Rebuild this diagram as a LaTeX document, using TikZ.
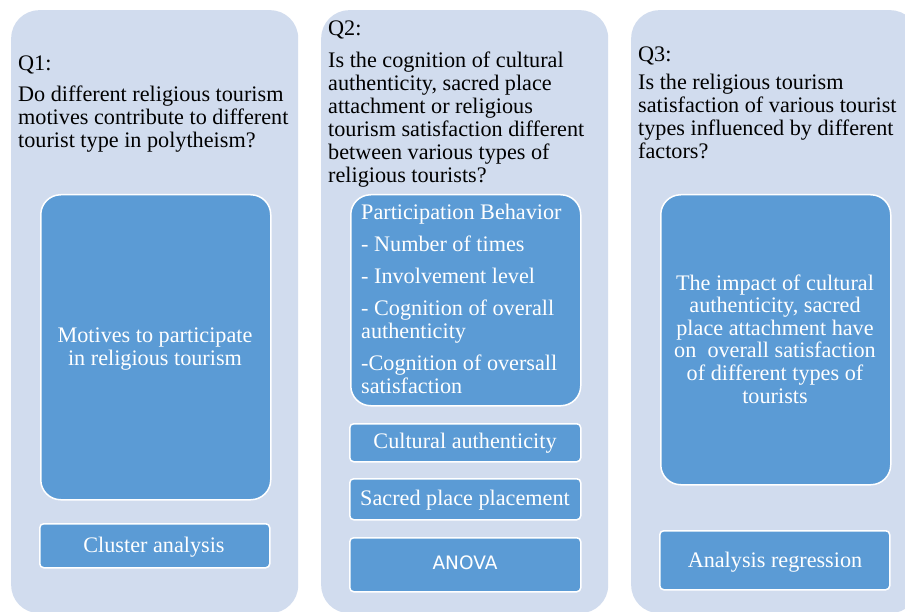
\documentclass[tikz,border=0pt]{standalone}
\usepackage{fontspec}
\setmainfont{Liberation Serif}
\newfontfamily\methodfont{DejaVu Sans}
\definecolor{panelfill}{HTML}{D1DCEE}
\definecolor{boxfill}{HTML}{5B9BD5}

\begin{document}
\begin{tikzpicture}[x=1pt, y=-1pt,
  panel/.style={fill=panelfill, rounded corners=28pt, inner sep=0pt, anchor=north west},
  bigbox/.style={fill=boxfill, draw=white, line width=1.5pt, rounded corners=20pt, inner sep=0pt, anchor=north west},
  smallbox/.style={fill=boxfill, draw=white, line width=1.5pt, rounded corners=4pt, inner sep=0pt, anchor=north west},
  % multi-line texts are anchored at the baseline of their last line
  qtext/.style={font=\fontsize{22.2}{23}\selectfont, inner sep=0pt, anchor=base west, align=left},
  wtext/.style={font=\fontsize{22.2}{23}\selectfont, text=white, inner sep=0pt, anchor=base, align=center},
  wlist/.style={font=\fontsize{22.2}{23}\selectfont, text=white, inner sep=0pt, anchor=base west, align=left}]

\useasboundingbox (0,0) rectangle (905,612);
\fill[white] (0,0) rectangle (905,612);

\begin{scope}
\clip (0,0) rectangle (905,612);

% column panels
\node[panel, minimum width=287pt, minimum height=603pt] (p1) at (11,10) {};
\node[panel, minimum width=287pt, minimum height=603pt] (p2) at (321,10) {};
\node[panel, minimum width=287pt, minimum height=603pt] (p3) at (631,10) {};

% column 1
\node[qtext] (q1) at (18,71) {Q1:};
\node[qtext] (q1body) at (18,148) {Do different religious tourism\\motives contribute to different\\tourist type in polytheism?};
\node[bigbox, minimum width=230pt, minimum height=305pt] (motbox) at (40,194) {};
\node[wtext] (mottext) at (155,365) {Motives to participate\\in religious tourism};
\node[smallbox, minimum width=230pt, minimum height=44pt] (clbox) at (39,523) {};
\node[wtext] (cltext) at (154,552) {Cluster analysis};

% column 2
\node[qtext] (q2) at (328,36) {Q2:};
\node[qtext] (q2body) at (328,183) {Is the cognition of cultural\\authenticity, sacred place\\attachment or religious\\tourism satisfaction different\\between various types of\\religious tourists?};
\node[bigbox, minimum width=230pt, minimum height=211pt] (pbbox) at (350,194) {};
\node[wlist] (pbtext) at (361,393) {Participation Behavior\\[9pt]- Number of times\\[9pt]- Involvement level\\[9pt]- Cognition of overall\\authenticity\\[9pt]-Cognition of oversall\\satisfaction};
\node[smallbox, minimum width=231pt, minimum height=38pt] (cabox) at (349,423) {};
\node[wtext] (catext) at (465,448) {Cultural authenticity};
\node[smallbox, minimum width=231pt, minimum height=41pt] (spbox) at (349,478) {};
\node[wtext] (sptext) at (465,505) {Sacred place placement};
\node[smallbox, minimum width=231pt, minimum height=54pt] (anbox) at (349,537) {};
\node[wtext, font=\methodfont\fontsize{18.5}{21}\selectfont] (antext) at (465,569) {ANOVA};

% column 3
\node[qtext] (q3) at (638,62) {Q3:};
\node[qtext] (q3body) at (638,159) {Is the religious tourism\\satisfaction of various tourist\\types influenced by different\\factors?};
\node[bigbox, minimum width=230pt, minimum height=290pt] (imbox) at (660,194) {};
\node[wtext, font=\fontsize{22.2}{22.6}\selectfont] (imtext) at (775,403) {The impact of cultural\\authenticity, sacred\\place attachment have\\on\ \ overall satisfaction\\of different types of\\tourists};
\node[smallbox, minimum width=230pt, minimum height=59pt] (arbox) at (659,530) {};
\node[wtext] (artext) at (775,567) {Analysis regression};
\end{scope}
\end{tikzpicture}
\end{document}
